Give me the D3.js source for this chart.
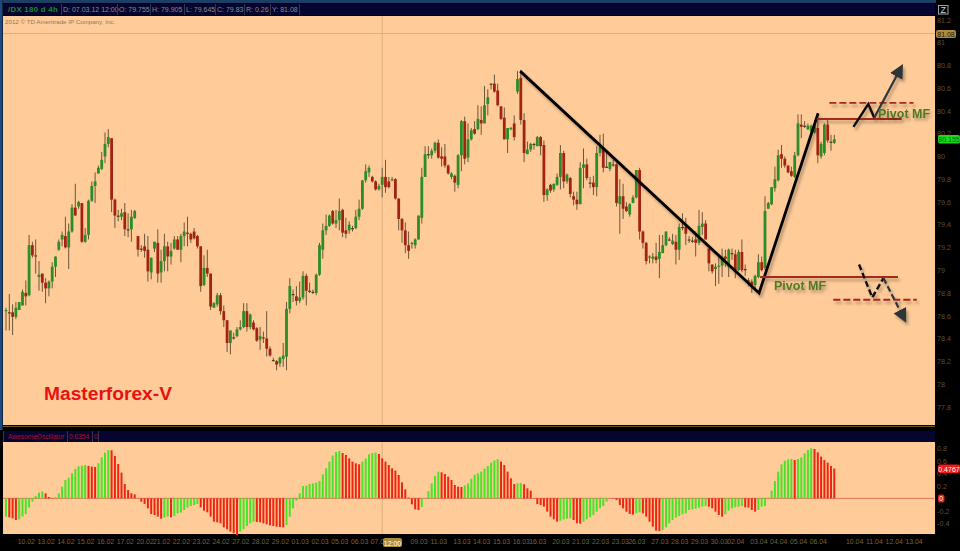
<!DOCTYPE html>
<html>
<head>
<meta charset="utf-8">
<script src="https://cdnjs.cloudflare.com/ajax/libs/d3/7.8.5/d3.min.js"></script>
<style>
html,body{margin:0;padding:0;background:#000;overflow:hidden}
text{font-family:"Liberation Sans",Arial,sans-serif}
</style>
</head>
<body>
<svg id="svg1" width="960" height="551"></svg>
<script>
var opens=[78.64,78.63,78.63,78.59,78.65,78.69,78.80,78.78,79.22,79.13,
78.94,78.97,78.89,78.84,78.90,79.03,79.18,79.27,79.30,79.20,
79.34,79.55,79.56,79.59,79.25,79.31,79.61,79.74,79.85,79.89,
80.00,80.11,80.16,79.62,79.48,79.47,79.51,79.36,79.36,79.46,
79.30,79.19,79.21,79.18,78.98,79.19,79.24,78.98,79.08,79.21,
79.12,79.19,79.27,79.18,79.30,79.33,79.32,79.34,79.30,79.21,
78.87,79.02,78.97,78.67,78.70,78.78,78.64,78.56,78.36,78.41,
78.42,78.48,78.50,78.64,78.50,78.54,78.49,78.39,78.41,78.40,
78.31,78.21,78.20,78.18,78.22,78.24,78.66,78.79,78.77,78.73,
78.76,78.95,78.82,78.81,78.80,78.96,79.18,79.35,79.39,79.52,
79.41,79.44,79.53,79.35,79.35,79.37,79.37,79.47,79.54,79.79,
79.86,79.82,79.78,79.71,79.75,79.82,79.78,79.79,79.80,79.63,
79.45,79.35,79.22,79.23,79.22,79.27,79.46,79.82,80.02,80.01,
80.05,80.12,80.00,80.00,79.92,79.82,79.83,79.75,80.01,80.31,
79.99,80.15,80.24,80.24,80.32,80.29,80.46,80.64,80.64,80.58,
80.44,80.34,80.15,80.24,80.29,80.57,80.69,80.32,80.02,80.06,
80.11,80.09,80.17,80.10,79.66,79.75,79.71,79.75,79.82,80.03,
79.78,79.81,79.65,79.62,79.58,79.90,79.93,79.77,79.77,79.73,
80.03,80.07,79.91,79.89,79.93,79.93,79.58,79.65,79.56,79.49,
79.59,79.64,79.88,79.34,79.24,79.11,79.10,79.12,79.10,79.15,
79.22,79.27,79.23,79.25,79.18,79.38,79.38,79.27,79.26,79.27,
79.24,79.38,79.41,79.19,79.05,79.01,79.03,79.04,79.12,79.03,
79.15,79.14,79.00,79.16,79.01,78.91,78.90,78.87,78.94,79.07,
79.02,79.54,79.58,79.72,79.79,80.02,79.98,79.92,79.87,79.82,
80.01,80.28,80.27,80.24,80.22,80.21,80.25,80.00,80.03,80.28,
80.13,80.12]
var closes=[78.65,78.63,78.59,78.67,78.72,78.81,78.77,79.22,79.13,79.12,
78.96,78.89,78.84,78.90,79.03,79.12,79.25,79.31,79.20,79.34,
79.55,79.48,79.60,79.25,79.31,79.61,79.74,79.78,79.90,79.97,
80.11,80.17,79.62,79.48,79.48,79.50,79.36,79.36,79.47,79.52,
79.18,79.19,79.17,78.99,79.11,79.25,78.97,79.08,79.21,79.12,
79.17,79.27,79.18,79.30,79.34,79.33,79.27,79.28,79.21,78.86,
79.02,78.97,78.68,78.71,78.78,78.64,78.56,78.36,78.47,78.41,
78.48,78.50,78.64,78.50,78.61,78.48,78.38,78.42,78.40,78.31,
78.25,78.21,78.17,78.23,78.25,78.66,78.86,78.79,78.73,78.76,
78.95,78.82,78.82,78.81,78.96,79.22,79.35,79.39,79.48,79.41,
79.44,79.52,79.33,79.32,79.40,79.37,79.47,79.54,79.79,79.87,
79.90,79.78,79.71,79.74,79.82,79.73,79.73,79.80,79.63,79.45,
79.35,79.22,79.17,79.24,79.27,79.48,79.82,80.02,80.02,80.05,
80.12,79.99,79.98,79.92,79.85,79.85,79.77,80.01,80.31,79.98,
80.15,80.23,80.20,80.33,80.29,80.45,80.52,80.64,80.57,80.45,
80.33,80.15,80.25,80.25,80.17,80.68,80.32,80.03,80.06,80.11,
80.11,80.17,80.09,79.66,79.71,79.70,79.76,79.82,80.03,79.78,
79.84,79.67,79.62,79.58,79.90,79.93,79.81,79.77,79.73,80.03,
80.08,79.90,79.91,79.95,79.93,79.59,79.65,79.54,79.52,79.58,
79.64,79.88,79.34,79.24,79.08,79.12,79.12,79.09,79.16,79.22,
79.34,79.27,79.26,79.18,79.38,79.38,79.32,79.27,79.26,79.24,
79.39,79.41,79.27,79.06,78.99,79.03,79.04,79.12,79.10,79.18,
79.15,79.00,79.16,79.00,79.01,78.91,78.87,78.95,79.07,79.00,
79.52,79.59,79.73,79.80,80.01,79.98,79.92,79.86,79.83,80.01,
80.29,80.26,80.27,80.27,80.27,80.27,80.01,80.11,80.28,80.14,
80.13,80.15]
var highs=[78.67,78.79,78.70,78.72,78.72,78.83,78.91,79.31,79.25,79.27,
79.08,78.97,78.93,78.91,79.07,79.12,79.27,79.34,79.47,79.41,
79.58,79.76,79.61,79.59,79.37,79.62,79.78,79.86,79.92,80.04,
80.21,80.24,80.16,79.63,79.53,79.54,79.59,79.50,79.53,79.53,
79.30,79.22,79.32,79.30,79.11,79.25,79.36,79.18,79.32,79.25,
79.24,79.30,79.30,79.32,79.42,79.47,79.33,79.37,79.31,79.21,
79.13,79.18,78.97,78.72,78.80,78.80,78.69,78.56,78.47,78.45,
78.50,78.56,78.71,78.71,78.62,78.56,78.50,78.50,78.46,78.64,
78.33,78.23,78.21,78.24,78.36,78.72,78.93,78.83,78.86,78.90,
78.99,78.97,78.89,78.83,78.97,79.24,79.41,79.49,79.49,79.53,
79.53,79.63,79.54,79.46,79.43,79.39,79.53,79.62,79.79,79.93,
79.92,79.83,79.79,79.76,79.90,79.97,79.82,79.82,79.81,79.63,
79.46,79.42,79.34,79.25,79.28,79.48,79.90,80.09,80.09,80.07,
80.13,80.15,80.08,80.11,79.93,79.86,79.84,80.02,80.32,80.35,
80.29,80.25,80.31,80.45,80.44,80.62,80.59,80.64,80.72,80.64,
80.44,80.43,80.25,80.26,80.36,80.75,80.76,80.38,80.13,80.12,
80.12,80.18,80.18,80.14,79.72,79.76,79.76,79.85,80.10,80.05,
79.85,79.82,79.69,79.69,79.95,80.07,79.98,79.82,79.83,80.09,
80.19,80.20,80.03,79.95,79.97,79.94,79.80,79.76,79.60,79.59,
79.66,79.88,79.90,79.35,79.25,79.13,79.15,79.24,79.31,79.31,
79.34,79.29,79.32,79.31,79.41,79.50,79.46,79.30,79.29,79.34,
79.53,79.51,79.44,79.19,79.05,79.06,79.12,79.19,79.18,79.19,
79.19,79.18,79.18,79.27,79.05,78.93,78.92,78.96,79.14,79.12,
79.65,79.60,79.73,79.91,80.06,80.10,80.00,79.92,79.91,80.04,
80.37,80.37,80.31,80.29,80.28,80.32,80.35,80.13,80.29,80.33,
80.19,80.19]
var lows=[78.47,78.47,78.43,78.57,78.65,78.69,78.69,78.77,79.11,78.97,
78.82,78.81,78.71,78.77,78.84,78.94,79.17,79.21,79.19,79.01,
79.33,79.48,79.54,79.24,79.24,79.27,79.60,79.59,79.85,79.88,
79.94,80.08,79.51,79.37,79.43,79.44,79.30,79.29,79.25,79.45,
79.12,79.16,79.11,78.90,78.92,79.16,78.89,78.89,78.99,78.99,
79.05,79.18,79.18,79.07,79.21,79.21,79.24,79.27,79.19,78.81,
78.86,78.94,78.65,78.67,78.68,78.61,78.50,78.28,78.26,78.39,
78.41,78.47,78.49,78.46,78.48,78.47,78.37,78.30,78.36,78.24,
78.24,78.20,78.12,78.15,78.15,78.12,78.62,78.72,78.69,78.71,
78.74,78.69,78.80,78.79,78.78,78.95,79.10,79.31,79.38,79.40,
79.37,79.35,79.29,79.28,79.32,79.34,79.36,79.44,79.53,79.77,
79.82,79.77,79.70,79.70,79.64,79.68,79.72,79.78,79.62,79.35,
79.24,79.15,79.10,79.19,79.19,79.27,79.41,79.82,79.98,79.98,
80.03,79.98,79.91,79.90,79.84,79.80,79.69,79.72,79.87,79.93,
79.95,80.14,80.19,80.23,80.19,80.29,80.36,80.59,80.56,80.44,
80.32,80.15,80.03,80.23,80.14,80.55,80.28,79.95,80.02,80.04,
80.06,80.09,80.01,79.60,79.61,79.68,79.69,79.74,79.71,79.72,
79.76,79.64,79.57,79.53,79.58,79.72,79.79,79.72,79.66,79.65,
80.00,79.86,79.90,79.87,79.91,79.56,79.32,79.45,79.51,79.47,
79.59,79.63,79.27,79.19,79.05,79.06,79.06,79.06,78.93,79.15,
79.21,79.26,79.22,79.05,79.09,79.35,79.22,79.24,79.24,79.12,
79.22,79.31,79.27,78.99,78.97,78.86,78.88,78.94,79.03,78.94,
79.09,78.93,78.99,78.98,78.95,78.86,78.80,78.83,78.93,78.99,
79.00,79.54,79.57,79.69,79.78,79.90,79.90,79.85,79.82,79.81,
80.00,80.16,80.25,80.23,80.19,80.20,79.94,79.98,80.01,80.12,
80.05,80.11]
var aoValues=[-.293,-.304,-.32,-.347,-.336,-.293,-.251,-.149,-.053,.037,
.091,.112,.08,.021,-.005,.016,.08,.187,.293,.331,
.4,.469,.512,.523,.533,.517,.507,.501,.56,.656,
.731,.773,.768,.677,.549,.411,.229,.133,.08,.064,
0,-.053,-.091,-.16,-.251,-.267,-.293,-.325,-.309,-.293,
-.304,-.283,-.24,-.229,-.187,-.149,-.123,-.107,-.091,-.144,
-.197,-.224,-.293,-.373,-.384,-.4,-.464,-.496,-.533,-.56,
-.587,-.533,-.496,-.443,-.4,-.373,-.379,-.384,-.4,-.416,
-.432,-.443,-.453,-.459,-.464,-.427,-.293,-.16,-.037,.08,
.197,.203,.229,.24,.251,.277,.384,.48,.587,.683,
.741,.757,.725,.693,.64,.587,.56,.544,.587,.635,
.704,.725,.731,.709,.64,.587,.533,.48,.443,.373,
.256,.144,.011,-.096,-.176,-.187,-.139,0,.112,.24,
.357,.427,.416,.389,.347,.293,.213,.187,.181,.208,
.24,.315,.379,.4,.427,.475,.517,.571,.608,.624,
.587,.533,.427,.32,.229,.24,.245,.224,.16,.123,
-.005,-.091,-.107,-.133,-.213,-.293,-.336,-.373,-.357,-.336,
-.325,-.32,-.347,-.4,-.405,-.373,-.336,-.304,-.267,-.213,
-.16,-.123,-.053,0,-.005,-.027,-.107,-.16,-.213,-.251,
-.261,-.24,-.224,-.24,-.293,-.373,-.453,-.517,-.523,-.507,
-.464,-.4,-.347,-.309,-.283,-.256,-.24,-.187,-.176,-.165,
-.149,-.133,-.123,-.133,-.16,-.213,-.267,-.293,-.256,-.197,
-.16,-.144,-.133,-.123,-.144,-.149,-.187,-.213,-.187,-.133,
-.123,-.005,.123,.277,.427,.544,.603,.624,.629,.613,
.629,.656,.72,.773,.8,.789,.736,.667,.613,.571,
.517,.4767]

var priceTicks=[81.2,81,80.8,80.6,80.4,80.2,80,79.8,79.6,79.4,79.2,79,78.8,78.6,78.4,78.2,78,77.8]
var aoTicks=[.8,.6,.4,.2,-.2,-.4]
var dateBars=[6,12,18,24,30,36,42,47,53,59,65,71,77,83,89,95,101,107,113,125,131,138,144,150,156,161,168,174,180,186,191,198,204,210,216,221,228,234,240,246,257,263,269,275]
var dateLabels=["10.02","13.02","14.02","15.02","16.02","17.02","20.02","21.02","22.02","23.02","24.02","27.02","28.02","29.02","01.03","02.03","05.03","06.03","07.03","09.03","11.03","13.03","14.03","15.03","16.03","16.03","20.03","21.03","22.03","23.03","26.03","27.03","28.03","29.03","30.03","02.04","03.04","04.04","05.04","06.04","10.04","11.04","12.04","13.04"]
var headerCells=["D: 07.03.12 12:00","O: 79.755","H: 79.905","L: 79.645","C: 79.83","R: 0.26","Y: 81.08"]
var headerEdges=[61,117,150,184,215,244,270,299]

// hand drawn lines, as [bar, price]
var trendLine=[[155.8,80.75],[228.2,78.80],[246.1,80.38]]
var solidLevels=[[[245.7,80.33],[271.4,80.33]],[[228.5,78.94],[270.3,78.94]]]
var dashLevels=[[[249.5,80.47],[275,80.47]],[[250.7,78.74],[276,78.74]]]
var upZig=[[256.8,80.26],[261.3,80.46],[263.1,80.34]]
var upArrow=[[263.1,80.34],[271.4,80.79]]
var downZig=[[258.5,79.05],[262.5,78.76],[265.9,78.93]]
var downArrow=[[265.9,78.93],[272.4,78.56]]
var crossBar=114, crossPrice=81.08

var candles=opens.map(function(o,i){return {i:i,o:o,h:highs[i],l:lows[i],c:closes[i]}})

var svg=d3.select("#svg1")
var x=d3.scaleLinear().domain([0,251]).range([6,834.3])
var y=d3.scaleLinear().domain([81.375,77.8]).range([0,406.7])
var yAo=d3.scaleLinear().domain([-.5,.8]).range([529.6,448.3])
var line=d3.line().x(d=>x(d[0])).y(d=>y(d[1]))

var defs=svg.append("defs")
var f=defs.append("filter").attr("id","shadow").attr("x","-20%").attr("y","-20%").attr("width","140%").attr("height","140%")
f.append("feDropShadow").attr("dx",2).attr("dy",3).attr("stdDeviation",1.5).attr("flood-color","#000").attr("flood-opacity",.3)
defs.append("marker").attr("id","head").attr("viewBox","0 0 10 10").attr("refX",8).attr("refY",5)
  .attr("markerWidth",14).attr("markerHeight",14).attr("markerUnits","userSpaceOnUse").attr("orient","auto")
  .append("path").attr("d","M0,0L10,5L0,10Z").attr("fill","#2f3438")

// frame
svg.append("rect").attr("width",960).attr("height",551).attr("fill","#000")
svg.append("rect").attr("width",2.5).attr("height",430).attr("fill","#1f4a80")
svg.append("rect").attr("x",3).attr("width",933).attr("height",3).attr("fill","#1c3f66")
svg.append("rect").attr("x",3).attr("y",4).attr("width",932).attr("height",11).attr("fill","#05052f")
svg.append("rect").attr("x",3).attr("y",431).attr("width",932).attr("height",11).attr("fill","#05052f")
svg.append("rect").attr("x",3).attr("y",16).attr("width",932).attr("height",409).attr("fill","#ffcc99")
svg.append("rect").attr("x",3).attr("y",442).attr("width",932).attr("height",92).attr("fill","#ffcc99")
svg.append("rect").attr("x",3).attr("y",426).attr("width",932).attr("height",1).attr("fill","#6b5420")

// crosshair
svg.selectAll(".crossV").data([[16,425],[442,534]]).join("line").attr("class","crossV")
  .attr("x1",x(crossBar)).attr("x2",x(crossBar)).attr("y1",d=>d[0]).attr("y2",d=>d[1]).attr("stroke","#dcae7e")
svg.append("line").attr("x1",3).attr("x2",935).attr("y1",y(crossPrice)).attr("y2",y(crossPrice)).attr("stroke","#dcae7e")

// candles
svg.selectAll(".wick").data(candles).join("line").attr("class","wick")
  .attr("x1",d=>x(d.i)).attr("x2",d=>x(d.i)).attr("y1",d=>y(d.h)).attr("y2",d=>y(d.l))
  .attr("stroke","#6a563a").attr("stroke-width",1)
svg.selectAll(".body").data(candles).join("rect").attr("class","body")
  .attr("x",d=>x(d.i)-1.4).attr("width",2.8)
  .attr("y",d=>y(Math.max(d.o,d.c)))
  .attr("height",d=>Math.max(1.2,Math.abs(y(d.o)-y(d.c))))
  .attr("fill",d=>d.c>d.o?"#2c8c26":d.c<d.o?"#a32313":"#4a3a20")

// awesome oscillator
svg.append("line").attr("x1",3).attr("x2",934).attr("y1",yAo(0)).attr("y2",yAo(0)).attr("stroke","#e2705a")
svg.selectAll(".ao").data(aoValues).join("rect").attr("class","ao")
  .attr("x",(d,i)=>x(i)-1).attr("width",2)
  .attr("y",d=>Math.min(yAo(0),yAo(d)))
  .attr("height",d=>Math.abs(yAo(d)-yAo(0)))
  .attr("fill",(d,i)=>i==0||d>aoValues[i-1]?"#4be328":"#ee2510")

// axes
var axisY=d3.axisRight(y).tickValues(priceTicks).tickSize(0).tickPadding(0).tickFormat(d=>String(d))
var gy=svg.append("g").attr("transform","translate(937,0)").call(axisY)
var axisAo=d3.axisRight(yAo).tickValues(aoTicks).tickSize(0).tickPadding(0).tickFormat(d=>String(d))
var ga=svg.append("g").attr("transform","translate(937,0)").call(axisAo)
var axisX=d3.axisBottom(x).tickValues(dateBars).tickSize(0).tickPadding(0)
  .tickFormat((d,i)=>dateLabels[i])
var gx=svg.append("g").attr("transform","translate(0,539)").call(axisX)
svg.selectAll(".domain").remove()
gy.selectAll("text").attr("fill","#5e4f34").attr("font-size",7.2)
ga.selectAll("text").attr("fill","#5e4f34").attr("font-size",7.2)
gx.selectAll("text").attr("fill","#76623e").attr("font-size",6.9)

// value badges
function badge(bx,by,bw,bh,fill,txt,col){
  svg.append("rect").attr("x",bx).attr("y",by).attr("width",bw).attr("height",bh).attr("rx",2).attr("fill",fill)
  svg.append("text").attr("x",bx+bw/2).attr("y",by+bh-1.5).attr("text-anchor","middle").attr("font-size",7).attr("fill",col).text(txt)
}
badge(936,30,20,8,"#b08a3c","81.08","#2a2000")
badge(938,135,22,8.5,"#1bd91b","80.155","#063")
badge(938,464.5,22,8.5,"#ee1c1c","0.4767","#ffe")
badge(938,494.5,6.5,8,"#ee1c1c","0","#ffe")
badge(383,538,19,9,"#b08a3c","12:00","#fff")

// header texts
svg.append("text").attr("x",8).attr("y",12).attr("font-size",7.8).attr("font-weight","bold").attr("fill","#1c8c2c").attr("letter-spacing",.3).text("/DX 180 d 4h")
svg.selectAll(".cell").data(headerCells).join("text").attr("class","cell")
  .attr("x",(d,i)=>headerEdges[i]+2).attr("y",12).attr("font-size",7).attr("fill","#8c8c90").text(d=>d)
svg.selectAll(".sep").data(headerEdges).join("rect").attr("class","sep")
  .attr("x",d=>d).attr("y",4).attr("width",1).attr("height",11).attr("fill","#35354a")
svg.append("text").attr("x",5).attr("y",24).attr("font-size",6.2).attr("fill","#8a7a62").text("2012 © TD Ameritrade IP Company, Inc.")
svg.append("text").attr("x",8).attr("y",439).attr("font-size",6.6).attr("fill","#b01030").text("AwesomeOscillator")
svg.append("text").attr("x",69).attr("y",439).attr("font-size",6.6).attr("fill","#b01030").text("0.6354")
svg.append("text").attr("x",94).attr("y",439).attr("font-size",6.6).attr("fill","#b01030").text("0")
svg.selectAll(".sep2").data([3,67,92,98]).join("rect").attr("class","sep2")
  .attr("x",d=>d).attr("y",431).attr("width",1).attr("height",11).attr("fill","#35354a")

// logo box
svg.append("rect").attr("x",938.5).attr("y",5.5).attr("width",9.5).attr("height",8.5).attr("fill","none").attr("stroke","#9aa4aa")
svg.append("text").attr("x",943.2).attr("y",13).attr("text-anchor","middle").attr("font-size",9).attr("fill","#c8d0d4").text("Z")

// drawn annotations
var notes=svg.append("g").attr("filter","url(#shadow)").attr("fill","none")
notes.append("path").attr("d",line(trendLine)).attr("stroke","#000").attr("stroke-width",2.8)
solidLevels.forEach(function(l){
  notes.append("path").attr("d",line(l)).attr("stroke","#a52a1e").attr("stroke-width",2)
})
dashLevels.forEach(function(l){
  notes.append("path").attr("d",line(l)).attr("stroke","#a52a1e").attr("stroke-width",1.8).attr("stroke-dasharray","7,3")
})
notes.append("path").attr("d",line(upZig)).attr("stroke","#111").attr("stroke-width",2.4)
notes.append("path").attr("d",line(upArrow)).attr("stroke","#2f3438").attr("stroke-width",2.2).attr("marker-end","url(#head)")
notes.append("path").attr("d",line(downZig)).attr("stroke","#111").attr("stroke-width",2.4).attr("stroke-dasharray","6,3")
notes.append("path").attr("d",line(downArrow)).attr("stroke","#2f3438").attr("stroke-width",2.2).attr("stroke-dasharray","6,3").attr("marker-end","url(#head)")

var labels=svg.append("g").attr("filter","url(#shadow)")
labels.append("text").attr("x",878).attr("y",117.5).attr("font-size",12.5).attr("font-weight","bold").attr("fill","#4f7a24").text("Pivot MF")
labels.append("text").attr("x",774).attr("y",290).attr("font-size",12.5).attr("font-weight","bold").attr("fill","#4f7a24").text("Pivot MF")
svg.append("text").attr("x",44).attr("y",400).attr("font-size",19.2).attr("font-weight","bold").attr("fill","#e81212").text("Masterforex-V")
</script>
</body>
</html>
